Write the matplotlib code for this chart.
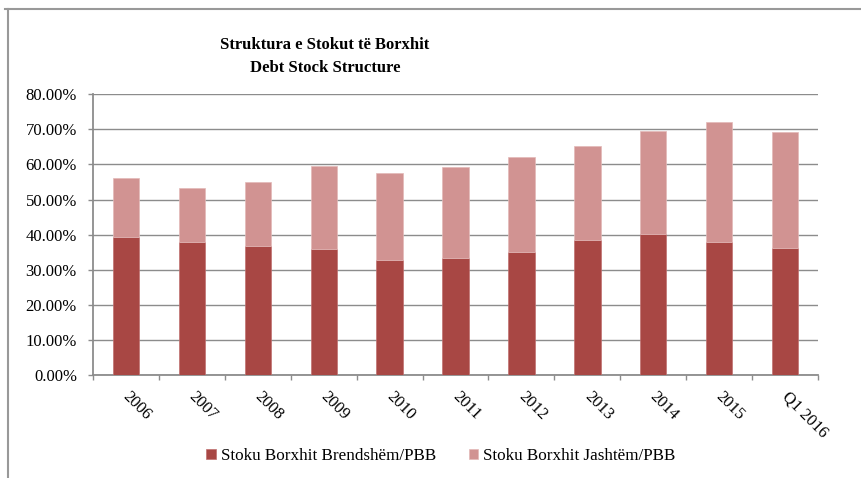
import numpy as np
import matplotlib
matplotlib.use("Agg")
import matplotlib.pyplot as plt
import matplotlib.transforms as mtransforms
from matplotlib.lines import Line2D

# data (% of GDP)
vitet = ['2006', '2007', '2008', '2009', '2010', '2011', '2012', '2013', '2014', '2015', 'Q1 2016']
brendshem = [39.4, 37.9, 36.9, 36.0, 32.8, 33.4, 35.1, 38.4, 40.2, 37.9, 36.3]
jashtem = [16.7, 15.4, 18.1, 23.6, 24.8, 25.9, 26.9, 26.9, 29.4, 34.1, 32.9]
yticks = [0, 10, 20, 30, 40, 50, 60, 70, 80]

plt.rcParams['font.family'] = ['Liberation Serif', 'DejaVu Serif']

W, H = 861, 478
fig = plt.figure(figsize=(W/100, H/100), dpi=100)
ax = fig.add_axes([93/W, 1-375/H, (818-93)/W, (375-94.3)/H])

x = np.arange(len(vitet))
ax.bar(x, brendshem, width=0.4, color='#A84744', edgecolor='#C07070', linewidth=0.5,
       label='Stoku Borxhit Brendshëm/PBB', zorder=3)
ax.bar(x, jashtem, width=0.4, bottom=brendshem, color='#D19392', edgecolor='#E3B9B8',
       linewidth=0.5, label='Stoku Borxhit Jashtëm/PBB', zorder=3)

ax.set_xlim(-0.5, len(vitet) - 0.5)
ax.set_ylim(0, 80)
ax.set_yticks(yticks)
ax.set_yticklabels(['%.2f%%' % v for v in yticks], fontsize=12)
ax.yaxis.grid(True, color='#8c8c8c', linewidth=1.0, zorder=0)
ax.tick_params(axis='y', length=3.6, color='#8c8c8c', width=1.0, pad=8)

ax.set_xticks(x)
ax.set_xticklabels(vitet, rotation=-45, rotation_mode='anchor', ha='left', va='top', fontsize=12)
ax.tick_params(axis='x', which='major', length=0, pad=10)
shift = mtransforms.ScaledTranslation(5/100, 0, fig.dpi_scale_trans)
for lab in ax.get_xticklabels():
    lab.set_transform(lab.get_transform() + shift)
ax.set_xticks(np.arange(-0.5, len(vitet), 1), minor=True)
ax.tick_params(axis='x', which='minor', length=3.6, color='#8c8c8c', width=1.0)

for s in ['top', 'right']:
    ax.spines[s].set_visible(False)
for s in ['left', 'bottom']:
    ax.spines[s].set_color('#8c8c8c')
    ax.spines[s].set_linewidth(1.3)

fig.text(325/W, 1-45/H, 'Struktura e Stokut të Borxhit', ha='center', va='center',
         fontsize=12, fontweight='bold')
fig.text(325/W, 1-68/H, 'Debt Stock Structure', ha='center', va='center',
         fontsize=12, fontweight='bold')

h, l = ax.get_legend_handles_labels()
fig.legend(h, l, loc='center', bbox_to_anchor=(441/W, 1-456/H), ncol=2, frameon=False,
           fontsize=12.3, handlelength=0.55, handleheight=0.55, handletextpad=0.3,
           columnspacing=1.9)

# outer frame of the chart object
fig.add_artist(Line2D([5/W, 1], [1-9/H, 1-9/H], color='#999999', linewidth=1.5))
fig.add_artist(Line2D([8/W, 8/W], [0, 1-9/H], color='#999999', linewidth=1.5))

fig.savefig('out.png', dpi=100)
